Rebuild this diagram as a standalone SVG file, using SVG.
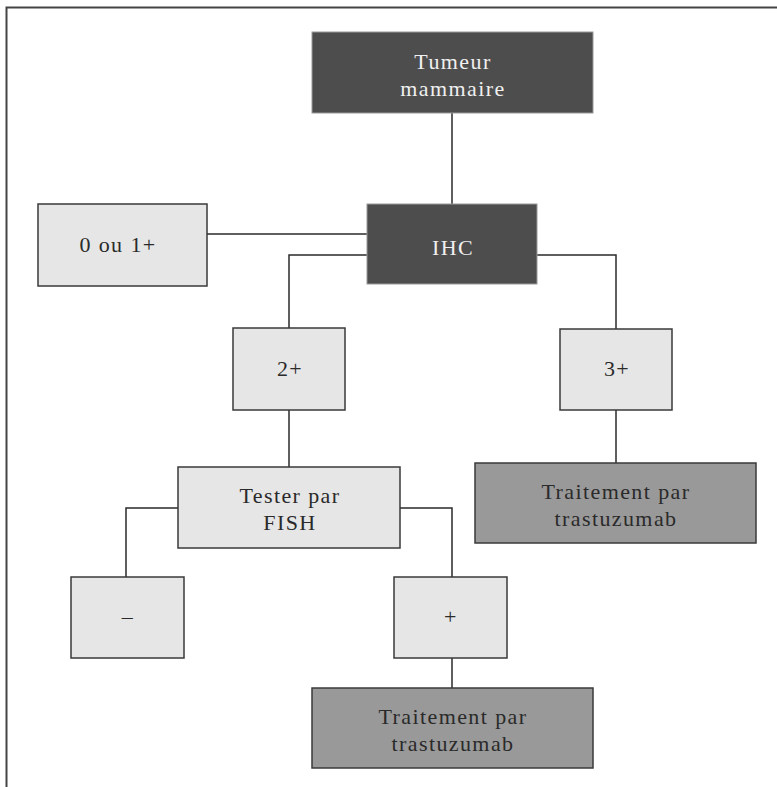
<svg xmlns="http://www.w3.org/2000/svg" width="777" height="787" viewBox="0 0 777 787">
<style>
.box{stroke:#3a3a3a;stroke-width:1.5}
.dark{fill:#4d4d4d;stroke:#9a9a9a;stroke-width:1}
.light{fill:#e6e6e6}
.mid{fill:#999999}
text{font-family:'Liberation Serif','DejaVu Serif',serif;font-size:22px;letter-spacing:1.4px;text-anchor:middle;fill:#2a2a2a}
.w{fill:#f0f0f0}
.c{fill:none;stroke:#2a2a2a;stroke-width:1.5}
</style>
<rect width="777" height="787" fill="#ffffff"/>
<path d="M6.5 787 V7.5 H777" fill="none" stroke="#444" stroke-width="2"/>
<g id="connectors">
<path class="c" d="M452 113 V204"/>
<path class="c" d="M207 234 H367"/>
<path class="c" d="M367 255 H289 V328"/>
<path class="c" d="M537 255 H616 V329"/>
<path class="c" d="M616 410 V463"/>
<path class="c" d="M289 410 V467"/>
<path class="c" d="M178 508 H126 V577"/>
<path class="c" d="M400 508 H452 V577"/>
<path class="c" d="M452 658 V688"/>
</g>
<g id="tumeur"><rect class="dark" x="312" y="32" width="281" height="81"/><text class="w" x="453" y="69">Tumeur</text><text class="w" x="453" y="96">mammaire</text></g>
<g id="ihc"><rect class="dark" x="367" y="204" width="170" height="80"/><text class="w" x="453" y="255">IHC</text></g>
<g id="zero"><rect class="box light" x="38" y="204" width="169" height="82"/><text x="118" y="252">0 ou 1+</text></g>
<g id="deux"><rect class="box light" x="233" y="328" width="112" height="82"/><text x="290" y="376">2+</text></g>
<g id="trois"><rect class="box light" x="560" y="329" width="112" height="81"/><text x="617" y="376">3+</text></g>
<g id="trt1"><rect class="box mid" x="475" y="463" width="281" height="80"/><text x="616" y="499">Traitement par</text><text x="616" y="526">trastuzumab</text></g>
<g id="fish"><rect class="box light" x="178" y="467" width="222" height="81"/><text x="290" y="503">Tester par</text><text x="290" y="530">FISH</text></g>
<g id="moins"><rect class="box light" x="71" y="577" width="113" height="81"/><text x="128" y="624">–</text></g>
<g id="plus"><rect class="box light" x="394" y="577" width="113" height="81"/><text x="451" y="624">+</text></g>
<g id="trt2"><rect class="box mid" x="312" y="688" width="281" height="80"/><text x="453" y="724">Traitement par</text><text x="453" y="751">trastuzumab</text></g>
</svg>
